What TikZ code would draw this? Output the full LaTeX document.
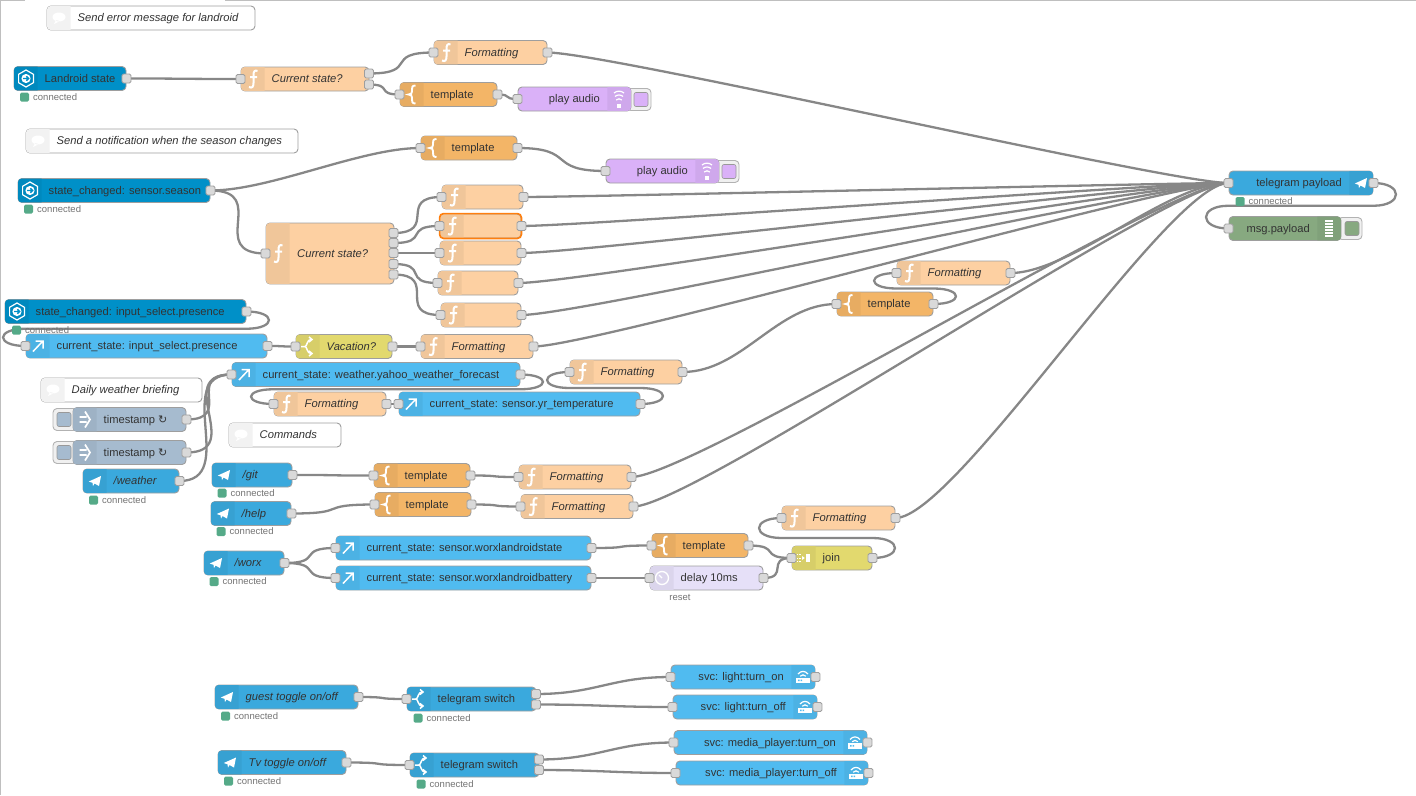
\documentclass[tikz,border=0pt]{standalone}
\usepackage{fontspec}
\setmainfont{Liberation Sans}
\newfontfamily\symfont{DejaVu Sans}
\usetikzlibrary{calc,backgrounds}
\definecolor{hablue}{HTML}{0090C8}
\definecolor{tgblue}{HTML}{3AA9DD}
\definecolor{stblue}{HTML}{50BBF0}
\definecolor{funcbg}{HTML}{FDD0A2}
\definecolor{tmplbg}{HTML}{F3B567}
\definecolor{swbg}{HTML}{E2D96E}
\definecolor{delaybg}{HTML}{E6E0F8}
\definecolor{injbg}{HTML}{A6BBCF}
\definecolor{dbgbg}{HTML}{87A980}
\definecolor{audbg}{HTML}{DAB1F8}
\definecolor{txtcol}{HTML}{333333}
\definecolor{stgreen}{HTML}{55AA88}
\definecolor{selcol}{HTML}{FF7F0E}
\tikzset{
 flow/.style={draw=black!38,line width=0.9pt,rounded corners=4pt,inner sep=0pt,minimum height=24pt},
 ftext/.style={text=txtcol,inner sep=0pt,font=\fontsize{11.15}{12}\selectfont},
 ftit/.style={ftext,font=\fontsize{11.2}{12}\selectfont\itshape},
 port/.style={draw=black!38,fill=black!15,line width=0.8pt,rounded corners=1.5pt,inner sep=0pt,minimum width=9pt,minimum height=9pt},
 wire/.style={draw=black!47,line width=2.3pt,line cap=round},
 dotbox/.style={draw=black!30,fill=black!6,line width=0.9pt,rounded corners=4pt,inner sep=0pt,minimum width=24pt,minimum height=22pt},
 dotfill/.style={draw=black!40,line width=0.6pt,rounded corners=2pt,inner sep=0pt,minimum width=14pt,minimum height=14pt},
 stdot/.style={fill=stgreen,rounded corners=1.5pt,inner sep=0pt,minimum width=9pt,minimum height=9pt},
 sttext/.style={text=black!55,inner sep=0pt,font=\fontsize{9.5}{11}\selectfont},
 icf/.pic={\draw[white,line width=2pt] (4.5,-8) .. controls (1.5,-9.5) and (0.5,-7) .. (0.5,-4) -- (0.5,4) .. controls (0.5,8) and (-1,9.5) .. (-4,8) (-3,-2) -- (4,-2);},
 icbrace/.pic={\draw[white,line width=1.9pt] (3.5,-9) .. controls (0,-9) and (0,-7) .. (0,-5) -- (0,-3) .. controls (0,-1) and (-1,0) .. (-3.5,0) .. controls (-1,0) and (0,1) .. (0,3) -- (0,5) .. controls (0,7) and (0,9) .. (3.5,9);},
 icout/.pic={\draw[white,line width=1.5pt] (-5,5.5) -- (4,-4) (-2.5,-5) -- (5,-5) -- (5,2.5);},
 ichex/.pic={\draw[white,line width=1.2pt] (0,-8.5) -- (7.4,-4.2) -- (7.4,4.2) -- (0,8.5) -- (-7.4,4.2) -- (-7.4,-4.2) -- cycle;
  \fill[white] (0,0) circle (4.6);
  \draw[hablue,line width=1.3pt] (-3,0) -- (2.4,0) (0.4,-2.2) -- (2.6,0) -- (0.4,2.2);},
 icplane/.pic={\fill[white] (-6.2,0.5) -- (6,-5) -- (4,5) -- (-0.5,2.5) -- (-2,5) -- (-2.5,1.8) -- cycle;},
 icswitch/.pic={\draw[white,line width=1.5pt] (-7,0) -- (-3,0) .. controls (-1,0) and (-1,-7) .. (3,-7) (-3,0) .. controls (-1,0) and (-1,7) .. (3,7) (1,-9.5) -- (4,-7) -- (1,-4.5) (1,4.5) -- (4,7) -- (1,9.5);},
 icinject/.pic={\draw[white,line width=1.7pt] (0,-8) -- (5,0) -- (0,8) (-5.5,-2.5) -- (1.5,-2.5) (-5.5,2.5) -- (1.5,2.5);},
 iccomment/.pic={\fill[white] (0,-1) ellipse (6.5 and 4.5) (-3,2) -- (-5,6) -- (1,3) -- cycle;},
 icdebug/.pic={\foreach \yy in {-7.5,-4.5,...,7.5} \draw[white,line width=1.1pt] (-4,\yy) -- (4,\yy);},
 icwifi/.pic={\fill[white] (-7,0.5) rectangle (7,6);
  \fill[stblue] (-5,2.5) rectangle (-3.5,4) (-2.5,2.5) rectangle (-1,4);
  \draw[white,line width=1.2pt] (-5,-3) .. controls (-2,-6.5) and (2,-6.5) .. (5,-3) (-2.8,-0.8) .. controls (-1,-2.6) and (1,-2.6) .. (2.8,-0.8);},
 icaudio/.pic={\fill[white] (-2,4.5) rectangle (2,8.5);
  \draw[white,line width=1.2pt] (-5,-6) .. controls (-2,-8.5) and (2,-8.5) .. (5,-6) (-4,-2.5) .. controls (-2,-4.5) and (2,-4.5) .. (4,-2.5) (-2.8,1) .. controls (-1,-0.6) and (1,-0.6) .. (2.8,1);},
 icjoin/.pic={\fill[white] (1.5,-4) rectangle (6,4);
  \draw[white,line width=1pt,dash pattern=on 1.2pt off 1.2pt] (-7,-3.5) -- (-2.5,-3.5) (-7,0) -- (-2.5,0) (-7,3.5) -- (-2.5,3.5);
  \fill[white] (-2,-2) -- (0.8,0) -- (-2,2) -- cycle;},
 icdelay/.pic={\draw[white,line width=1.3pt] (0,0) circle (6.5) (0,0) -- (-3,-3);},
}
\newcommand{\flowL}[8]{%
\node[flow,fill=#5,minimum width=#3-#2] (#1) at ({(#2+#3)/2},#4) {};
\fill[#5!95!black] ($(#1.north west)+(24,0.5)$) [rounded corners=3.5pt] -- ($(#1.north west)+(0.5,0.5)$) -- ($(#1.south west)+(0.5,-0.5)$) [sharp corners] -- ($(#1.south west)+(24,-0.5)$) -- cycle;
\pic at (#2+12,#4) {#6};
\node[#7,anchor=base west] (#1-t) at (#2+30.5,#4+3.8) {#8};
}
\newcommand{\flowR}[8]{%
\node[flow,fill=#5,minimum width=#3-#2] (#1) at ({(#2+#3)/2},#4) {};
\fill[#5!95!black] ($(#1.north east)+(-24,0.5)$) [rounded corners=3.5pt] -- ($(#1.north east)+(-0.5,0.5)$) -- ($(#1.south east)+(-0.5,-0.5)$) [sharp corners] -- ($(#1.south east)+(-24,-0.5)$) -- cycle;
\pic at (#3-12,#4) {#6};
\node[#7,anchor=base east] (#1-t) at (#3-31,#4+3.8) {#8};
}
\newcommand{\wire}[2]{\draw[wire] let \p1=(#1.center),\p2=(#2.center),\n1={min(60pt,0.75*veclen(\x2-\x1,\y2-\y1))} in (\p1) .. controls (\x1+\n1,\y1) and (\x2-\n1,\y2) .. (\p2);}
\newcommand{\backwire}[3][30]{\draw[wire] let \p1=(#2.center),\p2=(#3.center),\n1={0.5*(\y1+\y2)} in (\p1) .. controls (\x1+#1pt,\y1) and (\x1+#1pt,\n1) .. (\x1,\n1) -- (\x2,\n1) .. controls (\x2-#1pt,\n1) and (\x2-#1pt,\y2) .. (\p2);}
\newcommand{\status}[3]{\node[stdot] (#1) at (#2,#3) {};
\node[sttext,anchor=west] (#1-t) at (#2+8.5,#3) {connected};}
\begin{document}
\begin{tikzpicture}[x=1pt,y=-1pt]
\useasboundingbox (0,0) rectangle (1416,795);
\draw[black!25,line width=1.2pt] (25,0.5) -- (0.5,0.5) -- (0.5,795);
\draw[black!25,line width=1.2pt] (225,0.5) -- (1416,0.5);
% comments
\flowL{cmterr}{47}{255}{18}{white}{iccomment}{ftit}{Send error message for landroid}
\flowL{cmtseason}{26}{298}{141}{white}{iccomment}{ftit}{Send a notification when the season changes}
\flowL{cmtdaily}{41}{202}{390}{white}{iccomment}{ftit}{Daily weather briefing}
\flowL{cmtcmd}{229}{341}{435}{white}{iccomment}{ftit}{Commands}
% landroid
\flowL{land}{14}{126}{78.5}{hablue}{ichex}{ftext}{Landroid state}
\flowL{curland}{241}{369}{79}{funcbg}{icf}{ftit}{Current state?}
\flowL{fmtland}{434}{547}{52.5}{funcbg}{icf}{ftit}{Formatting}
\flowL{tmplland}{400}{497}{94.5}{tmplbg}{icbrace}{ftext}{template}
\node[dotbox] (btnaud) at (639,99.5) {};
\node[dotfill,fill=audbg] (btnaud-f) at (641,99.5) {};
\flowR{audland}{518}{631}{99}{audbg}{icaudio}{ftext}{play audio}
% season
\flowL{tmplseason}{421}{517}{148}{tmplbg}{icbrace}{ftext}{template}
\node[dotbox] (btnaudb) at (727,171.5) {};
\node[dotfill,fill=audbg] (btnaudb-f) at (729,171.5) {};
\flowR{audseason}{606}{719}{171}{audbg}{icaudio}{ftext}{play audio}
\flowL{season}{18}{210}{190.5}{hablue}{ichex}{ftext}{state\_changed: sensor.season}
\node[flow,fill=funcbg,minimum width=128,minimum height=61] (curseason) at (330,253.5) {};
\fill[funcbg!95!black] ($(curseason.north west)+(24,0.5)$) [rounded corners=3.5pt] -- ($(curseason.north west)+(0.5,0.5)$) -- ($(curseason.south west)+(0.5,-0.5)$) [sharp corners] -- ($(curseason.south west)+(24,-0.5)$) -- cycle;
\pic at (278,253.5) {icf};
\node[ftit,anchor=base west] (curseason-t) at (297,257.3) {Current state?};
\flowL{fa}{442}{523}{197}{funcbg}{icf}{ftit}{}
\flowL{fb}{440}{521}{226}{funcbg}{icf}{ftit}{}
\draw[draw=selcol,line width=1.6pt,rounded corners=4pt] (fb.north west) rectangle (fb.south east);
\flowL{fc}{440}{521}{253}{funcbg}{icf}{ftit}{}
\flowL{fd}{438}{518}{283}{funcbg}{icf}{ftit}{}
\flowL{fe}{441}{521}{315}{funcbg}{icf}{ftit}{}
% presence
\flowL{presence}{5}{246}{311.5}{hablue}{ichex}{ftext}{state\_changed: input\_select.presence}
\flowL{curpres}{26}{267}{346}{stblue}{icout}{ftext}{current\_state: input\_select.presence}
\flowL{vacation}{296}{392}{346.5}{swbg}{icswitch}{ftit}{Vacation?}
\flowL{fmtvac}{421}{533}{346.5}{funcbg}{icf}{ftit}{Formatting}
% weather
\flowL{curweather}{232}{520}{374.5}{stblue}{icout}{ftext}{current\_state: weather.yahoo\_weather\_forecast}
\flowL{fmtb}{570}{682}{372}{funcbg}{icf}{ftit}{Formatting}
\flowL{fmta}{274}{386}{404}{funcbg}{icf}{ftit}{Formatting}
\flowL{curtemp}{399}{640}{404}{stblue}{icout}{ftext}{current\_state: sensor.yr\_temperature}
\flowL{tmplwea}{837}{933}{304}{tmplbg}{icbrace}{ftext}{template}
\flowL{fmtwea}{897}{1010}{273}{funcbg}{icf}{ftit}{Formatting}
\node[dotbox] (btninja) at (65,419.5) {};
\node[dotfill,fill=injbg] (btninja-f) at (64,419.5) {};
\flowL{inja}{73}{186}{419.5}{injbg}{icinject}{ftext}{timestamp {\symfont\fontsize{11}{12}\selectfont ↻}}
\node[dotbox] (btninjb) at (65,452.5) {};
\node[dotfill,fill=injbg] (btninjb-f) at (64,452.5) {};
\flowL{injb}{73}{186}{452.5}{injbg}{icinject}{ftext}{timestamp {\symfont\fontsize{11}{12}\selectfont ↻}}
\flowL{cmdwea}{83}{179}{481}{tgblue}{icplane}{ftit}{/weather}
% commands
\flowL{cmdgit}{212}{292}{475}{tgblue}{icplane}{ftit}{/git}
\flowL{tmplgit}{374}{470}{475.5}{tmplbg}{icbrace}{ftext}{template}
\flowL{fmtgit}{519}{631}{477}{funcbg}{icf}{ftit}{Formatting}
\flowL{cmdhelp}{211}{291}{513.5}{tgblue}{icplane}{ftit}{/help}
\flowL{tmplhelp}{375}{471}{504.5}{tmplbg}{icbrace}{ftext}{template}
\flowL{fmthelp}{521}{633}{506.5}{funcbg}{icf}{ftit}{Formatting}
% worx
\flowL{cmdworx}{204}{284}{563}{tgblue}{icplane}{ftit}{/worx}
\flowL{curworx}{336}{591}{548}{stblue}{icout}{ftext}{current\_state: sensor.worxlandroidstate}
\flowL{curbatt}{336}{591}{578}{stblue}{icout}{ftext}{current\_state: sensor.worxlandroidbattery}
\flowL{tmplworx}{652}{748}{545.5}{tmplbg}{icbrace}{ftext}{template}
\flowL{delay}{650}{763}{578}{delaybg}{icdelay}{ftext}{delay 10ms}
\node[sttext] (delay-s) at (680,597) {reset};
\flowL{joinworx}{792}{872}{558}{swbg}{icjoin}{ftext}{join}
\flowL{fmtworx}{782}{895}{518}{funcbg}{icf}{ftit}{Formatting}
% telegram
\flowR{tgpay}{1229}{1373}{183}{tgblue}{icplane}{ftext}{telegram payload}
\node[dotbox] (btndbg) at (1350,228.5) {};
\node[dotfill,fill=dbgbg] (btndbg-f) at (1352,228.5) {};
\flowR{dbg}{1229}{1341}{228.5}{dbgbg}{icdebug}{ftext}{msg.payload}
% toggles
\flowL{guest}{215}{358}{697}{tgblue}{icplane}{ftit}{guest toggle on/off}
\flowL{swguest}{407}{536}{699}{tgblue}{icswitch}{ftext}{telegram switch}
\flowL{tvtog}{218}{346}{762.5}{tgblue}{icplane}{ftit}{Tv toggle on/off}
\flowL{swtv}{410}{539}{765}{tgblue}{icswitch}{ftext}{telegram switch}
\flowR{lighton}{671}{815}{677}{stblue}{icwifi}{ftext}{svc: light:turn\_on}
\flowR{lightoff}{673}{817}{707}{stblue}{icwifi}{ftext}{svc: light:turn\_off}
\flowR{mediaon}{674}{867}{742.5}{stblue}{icwifi}{ftext}{svc: media\_player:turn\_on}
\flowR{mediaoff}{676}{868}{773}{stblue}{icwifi}{ftext}{svc: media\_player:turn\_off}
% ports
\foreach \nm in {curland,fmtland,tmplland,audland,tmplseason,audseason,curseason,fa,fb,fc,fd,fe,curpres,vacation,fmtvac,curweather,fmtb,fmta,curtemp,tmplwea,fmtwea,tmplgit,fmtgit,tmplhelp,fmthelp,curworx,curbatt,tmplworx,delay,joinworx,fmtworx,tgpay,dbg,swguest,swtv,lighton,lightoff,mediaon,mediaoff}
 \node[port] (\nm-i) at (\nm.west) {};
\foreach \nm in {land,fmtland,tmplland,tmplseason,season,fa,fb,fc,fd,fe,presence,curpres,vacation,fmtvac,curweather,fmtb,fmta,curtemp,tmplwea,fmtwea,inja,injb,cmdwea,cmdgit,tmplgit,fmtgit,cmdhelp,tmplhelp,fmthelp,cmdworx,curworx,curbatt,tmplworx,delay,joinworx,fmtworx,tgpay,guest,tvtog,lighton,lightoff,mediaon,mediaoff}
 \node[port] (\nm-o) at (\nm.east) {};
\node[port] (curland-a) at (369,73.5) {};
\node[port] (curland-b) at (369,84.5) {};
\node[port] (curseason-a) at (393.5,233) {};
\node[port] (curseason-b) at (393.5,243) {};
\node[port] (curseason-c) at (393.5,253) {};
\node[port] (curseason-d) at (393.5,264) {};
\node[port] (curseason-e) at (393.5,274.5) {};
\node[port] (swguest-a) at (536,694) {};
\node[port] (swguest-b) at (536,704.5) {};
\node[port] (swtv-a) at (539,759.5) {};
\node[port] (swtv-b) at (539,770) {};
% status
\status{stland}{24.5}{97}
\status{stseason}{28.5}{209}
\status{stpres}{16.5}{330}
\status{stwea}{93.5}{500}
\status{stgit}{222}{493}
\status{sthelp}{221}{531.5}
\status{stworx}{214}{581.5}
\status{sttg}{1240}{201.5}
\status{stguest}{225.5}{716}
\status{stswguest}{418}{718}
\status{sttv}{228.5}{781}
\status{stswtv}{421}{784}
% wires
\begin{scope}[on background layer]
\wire{land-o}{curland-i}
\wire{curland-a}{fmtland-i}
\wire{curland-b}{tmplland-i}
\wire{tmplland-o}{audland-i}
\wire{season-o}{tmplseason-i}
\wire{tmplseason-o}{audseason-i}
\wire{season-o}{curseason-i}
\wire{curseason-a}{fa-i}
\wire{curseason-b}{fb-i}
\wire{curseason-c}{fc-i}
\wire{curseason-d}{fd-i}
\wire{curseason-e}{fe-i}
\backwire{presence-o}{curpres-i}
\wire{curpres-o}{vacation-i}
\wire{vacation-o}{fmtvac-i}
\wire{inja-o}{curweather-i}
\wire{injb-o}{curweather-i}
\wire{cmdwea-o}{curweather-i}
\backwire{curweather-o}{fmta-i}
\wire{fmta-o}{curtemp-i}
\backwire{curtemp-o}{fmtb-i}
\wire{fmtb-o}{tmplwea-i}
\backwire{tmplwea-o}{fmtwea-i}
\wire{cmdgit-o}{tmplgit-i}
\wire{tmplgit-o}{fmtgit-i}
\wire{cmdhelp-o}{tmplhelp-i}
\wire{tmplhelp-o}{fmthelp-i}
\wire{cmdworx-o}{curworx-i}
\wire{cmdworx-o}{curbatt-i}
\wire{curworx-o}{tmplworx-i}
\wire{curbatt-o}{delay-i}
\wire{tmplworx-o}{joinworx-i}
\wire{delay-o}{joinworx-i}
\backwire{joinworx-o}{fmtworx-i}
\foreach \nm in {fmtland,fa,fb,fc,fd,fe,fmtvac,fmtwea,fmtgit,fmthelp,fmtworx} {
 \wire{\nm-o}{tgpay-i}
}
\backwire{tgpay-o}{dbg-i}
\wire{guest-o}{swguest-i}
\wire{swguest-a}{lighton-i}
\wire{swguest-b}{lightoff-i}
\wire{tvtog-o}{swtv-i}
\wire{swtv-a}{mediaon-i}
\wire{swtv-b}{mediaoff-i}
\end{scope}
\end{tikzpicture}
\end{document}
